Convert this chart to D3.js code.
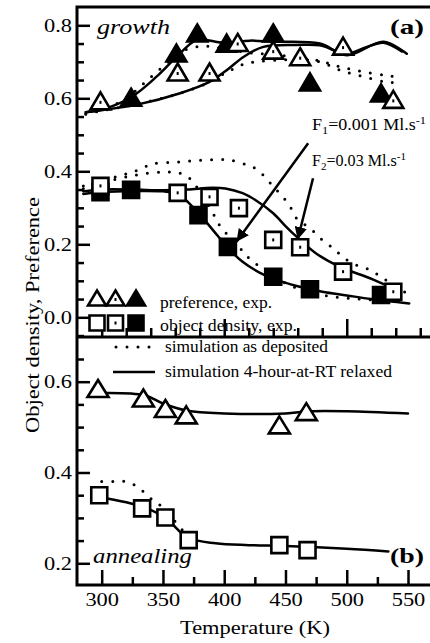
<!DOCTYPE html>
<html>
<head>
<meta charset="utf-8">
<script src="https://cdn.jsdelivr.net/npm/d3@7/dist/d3.min.js"></script>
<style>
body { margin: 0; background: #fff; }
svg { display: block; font-family: "Liberation Serif", "DejaVu Serif", serif; }
.tick line { stroke: #000; stroke-width: 2.5; }
.tick text { font-size: 19px; fill: #000; font-family: "Liberation Serif", serif; }
</style>
</head>
<body>
<svg width="430" height="643"></svg>
<script>
// ---- data (T in K, value) ----
// (a) growth: preference
const growthPrefF1 = [[299,0.593],[362,0.672],[388,0.672],[411,0.753],[440,0.732],[462,0.714],[497,0.743],[538,0.597]];
const growthPrefF2 = [[324,0.603],[361,0.724],[378,0.779],[402,0.751],[440,0.779],[470,0.645],[528,0.615]];
// (a) growth: object density
const growthDensF1 = [[299,0.36],[362,0.341],[388,0.330],[412,0.299],[440,0.212],[462,0.192],[497,0.125],[538,0.070]];
const growthDensF2 = [[299,0.343],[324,0.349],[379,0.28],[403,0.193],[440,0.111],[470,0.077],[528,0.061]];

// simulation curves, panel (a)
const simPrefRelaxF2 = [[287,0.562],[299,0.568],[324,0.603],[345,0.66],[361,0.713],[378,0.76],[399,0.752],[421,0.758],[440,0.755],[478,0.75],[500,0.718],[530,0.755],[549,0.722]];
const simPrefRelaxF1 = [[287,0.562],[301,0.568],[328,0.582],[364,0.614],[388,0.645],[402,0.677],[416,0.714],[432,0.741],[459,0.746],[478,0.745],[500,0.722],[516,0.74],[530,0.752],[545,0.728]];
const simPrefDepF2 = [[287,0.558],[300,0.568],[320,0.60],[339,0.655],[355,0.70],[368,0.732],[380,0.742],[390,0.742],[400,0.735],[420,0.725],[440,0.72],[460,0.712],[475,0.705],[494,0.687],[513,0.673],[532,0.663],[542,0.658]];
const simPrefDepF1 = [[287,0.556],[300,0.566],[330,0.585],[360,0.61],[385,0.64],[403,0.673],[414,0.691],[426,0.70],[445,0.705],[462,0.706],[478,0.70],[494,0.678],[513,0.66],[532,0.645],[545,0.643]];
const simDensRelaxF2 = [[285,0.338],[300,0.343],[325,0.346],[350,0.345],[362,0.338],[375,0.30],[385,0.262],[395,0.222],[403,0.19],[415,0.152],[428,0.124],[440,0.106],[460,0.085],[480,0.07],[500,0.06],[520,0.05],[551,0.038]];
const simDensRelaxF1 = [[285,0.345],[300,0.35],[325,0.35],[350,0.348],[370,0.35],[390,0.355],[401,0.353],[415,0.34],[426,0.32],[440,0.285],[450,0.25],[459,0.221],[475,0.175],[494,0.139],[519,0.107],[532,0.088],[540,0.078]];
const simDensDepF1 = [[285,0.36],[300,0.375],[312,0.385],[322,0.395],[331,0.405],[341,0.42],[360,0.425],[380,0.43],[400,0.432],[410,0.427],[420,0.415],[427,0.405],[437,0.37],[445,0.34],[453,0.308],[459,0.271],[470,0.244],[480,0.212],[489,0.189],[498,0.162],[508,0.143],[519,0.13],[528,0.111],[538,0.088],[549,0.066]];
const simDensDepF2 = [[285,0.352],[300,0.368],[325,0.388],[350,0.398],[368,0.39],[378,0.355],[390,0.29],[396,0.253],[404,0.221],[413,0.189],[422,0.157],[450,0.093],[480,0.061],[510,0.05],[540,0.045]];

// (b) annealing
const annealPref = [[297,0.585],[334,0.564],[352,0.541],[369,0.527],[445,0.505],[467,0.534]];
const annealDens = [[298,0.350],[333,0.321],[352,0.301],[371,0.251],[445,0.240],[468,0.229]];
const simAnnealPref = [[300,0.575],[335,0.57],[350,0.552],[370,0.536],[400,0.53],[450,0.53],[470,0.535],[500,0.535],[550,0.53]];
const simAnnealDens = [[300,0.345],[333,0.325],[352,0.30],[370,0.257],[393,0.244],[420,0.24],[450,0.238],[500,0.232],[534,0.226]];
const simAnnealDensDep = [[300,0.38],[310,0.38],[320,0.38],[330,0.367],[339,0.345],[349,0.325],[366,0.273],[372,0.257]];

// ticks
const xTicks = [300, 350, 400, 450, 500, 550];
const xMinor = [325, 375, 425, 475, 525];
const xTicksA = [300, 400, 500];
const xMinorA = [320, 340, 360, 380, 420, 440, 460, 480, 520, 540, 560];
const yTicksA = [0.0, 0.2, 0.4, 0.6, 0.8];
const yTicksB = [0.2, 0.4, 0.6];

// ---- layout ----
const frameL = 77, frameR = 431, frameT = 7, frameM = 337, frameB = 585;

const svg = d3.select("svg");

const x = d3.scaleLinear().domain([300, 550]).range([101.7, 408]);
const yA = d3.scaleLinear().domain([0, 0.8]).range([317.3, 25.3]);
const yB = d3.scaleLinear().domain([0.2, 0.6]).range([563.3, 381.7]);

// stretch a text to a given width (the original type is wide)
function fit(sel, w) {
	sel.attr("textLength", w).attr("lengthAdjust", "spacingAndGlyphs");
	return sel;
}

// axes
function yAxis(scale, major, lo, hi) {
	const minor = d3.range(lo, hi + 1e-9, 0.05).filter(v => !major.some(m => Math.abs(m - v) < 1e-6));
	svg.append("g")
	   .attr("transform", `translate(${frameL},0)`)
	   .call(d3.axisLeft(scale).tickValues(minor).tickSize(-7).tickFormat(""))
	   .call(g => g.select(".domain").remove());
	svg.append("g")
	   .attr("class", "labelled")
	   .attr("transform", `translate(${frameL},0)`)
	   .call(d3.axisLeft(scale).tickValues(major).tickSize(-13).tickPadding(5).tickFormat(d3.format(".1f")))
	   .call(g => g.select(".domain").remove());
}
yAxis(yA, yTicksA, -0.05, 0.8);
yAxis(yB, yTicksB, 0.2, 0.65);

svg.append("g")
   .attr("transform", `translate(0,${frameB})`)
   .call(d3.axisBottom(x).tickValues(xMinor).tickSize(-8).tickFormat(""))
   .call(g => g.select(".domain").remove());
svg.append("g")
   .attr("class", "labelled")
   .attr("transform", `translate(0,${frameB})`)
   .call(d3.axisBottom(x).tickValues(xTicks).tickSize(-15).tickPadding(8))
   .call(g => g.select(".domain").remove());

svg.append("g")
   .attr("transform", `translate(0,${frameM})`)
   .call(d3.axisBottom(x).tickValues(xMinorA).tickSize(-9).tickFormat(""))
   .call(g => g.select(".domain").remove());
svg.append("g")
   .attr("transform", `translate(0,${frameM})`)
   .call(d3.axisBottom(x).tickValues(xTicksA).tickSize(-18).tickFormat(""))
   .call(g => g.select(".domain").remove());

svg.selectAll(".labelled .tick text").each(function() {
	fit(d3.select(this), this.getComputedTextLength() * 1.18);
});

// frame (right side falls off the picture)
svg.append("path")
   .attr("d", `M${frameR},${frameT}H${frameL}V${frameB}H${frameR} M${frameL},${frameM}H${frameR}`)
   .attr("fill", "none")
   .attr("stroke", "#000")
   .attr("stroke-width", 3);

// curves
function curve(data, yScale, dotted) {
	const line = d3.line()
				   .x(d => x(d[0]))
				   .y(d => yScale(d[1]))
				   .curve(d3.curveCatmullRom.alpha(0.5));
	svg.append("path")
	   .attr("d", line(data))
	   .attr("fill", "none")
	   .attr("stroke", "#000")
	   .attr("stroke-width", dotted ? 3 : 2.5)
	   .attr("stroke-linecap", "round")
	   .attr("stroke-dasharray", dotted ? "0 11" : null);
}
curve(simPrefDepF2, yA, true);
curve(simPrefDepF1, yA, true);
curve(simDensDepF1, yA, true);
curve(simDensDepF2, yA, true);
curve(simPrefRelaxF2, yA, false);
curve(simPrefRelaxF1, yA, false);
curve(simDensRelaxF2, yA, false);
curve(simDensRelaxF1, yA, false);
curve(simAnnealDensDep, yB, true);
curve(simAnnealPref, yB, false);
curve(simAnnealDens, yB, false);

// markers
function tri(w, h) { return `M0,${-h/2}L${w/2},${h/2}L${-w/2},${h/2}Z`; }
function sq(s) { return `M${-s/2},${-s/2}h${s}v${s}h${-s}Z`; }

function markers(data, yScale, shape, style) {
	const g = svg.append("g");
	const m = g.selectAll("g")
			   .data(data)
			   .enter()
			   .append("g")
			   .attr("transform", d => `translate(${x(d[0])},${yScale(d[1])})`);
	m.append("path")
	 .attr("d", shape)
	 .attr("fill", style === "filled" ? "#000" : "#fff")
	 .attr("stroke", "#000")
	 .attr("stroke-width", 2.6)
	 .attr("stroke-linejoin", "miter");
	if (style === "dot") {
		m.append("rect")
		 .attr("x", -1).attr("y", shape.startsWith("M0") ? 0 : -1.5)
		 .attr("width", 2).attr("height", 3)
		 .attr("fill", "#000");
	}
}
markers(growthDensF2, yA, sq(16), "filled");
markers(growthDensF1, yA, sq(16), "dot");
markers(growthPrefF2, yA, tri(20, 17), "filled");
markers(growthPrefF1, yA, tri(20, 17), "dot");
markers(annealPref, yB, tri(21, 17), "open");
markers(annealDens, yB, sq(16), "open");

// arrows
svg.append("defs").append("marker")
   .attr("id", "head")
   .attr("viewBox", "0 0 10 10")
   .attr("refX", 10).attr("refY", 5)
   .attr("markerWidth", 5).attr("markerHeight", 5)
   .attr("markerUnits", "strokeWidth")
   .attr("orient", "auto")
   .append("path")
   .attr("d", "M0,0L10,5L0,10Z")
   .attr("fill", "#000");

const arrows = [[[468.5, 0.477], [410, 0.207]], [[472.5, 0.381], [460, 0.213]]];
arrows.forEach(a => {
	svg.append("line")
	   .attr("x1", x(a[0][0])).attr("y1", yA(a[0][1]))
	   .attr("x2", x(a[1][0])).attr("y2", yA(a[1][1]))
	   .attr("stroke", "#000")
	   .attr("stroke-width", 2.5)
	   .attr("marker-end", "url(#head)");
});

// flux labels
function fluxLabel(sub, val, xx, yy, w) {
	const t = svg.append("text")
				 .attr("x", xx).attr("y", yy)
				 .attr("font-size", 16);
	t.append("tspan").text("F");
	t.append("tspan").attr("font-size", 11).attr("dy", 4).text(sub);
	t.append("tspan").attr("dy", -4).text("=" + val + " Ml.s");
	t.append("tspan").attr("font-size", 11).attr("dy", -6).text("-1");
	fit(t, w);
}
fluxLabel("1", "0.001", 312, 130, 114);
fluxLabel("2", "0.03", 312, 166, 94);

// panel labels
fit(svg.append("text").attr("x", 97).attr("y", 34).attr("font-size", 21).attr("font-style", "italic").text("growth"), 73);
fit(svg.append("text").attr("x", 390).attr("y", 34).attr("font-size", 21).attr("font-weight", "bold").text("(a)"), 34);
fit(svg.append("text").attr("x", 93).attr("y", 563).attr("font-size", 21).attr("font-style", "italic").text("annealing"), 99);
fit(svg.append("text").attr("x", 390).attr("y", 563).attr("font-size", 21).attr("font-weight", "bold").text("(b)"), 34);

// legend (experimental symbols)
const lg = svg.append("g");
[["open", 97], ["dot", 115.5], ["filled", 136]].forEach(s => {
	const gt = lg.append("g").attr("transform", `translate(${s[1]},298)`);
	gt.append("path").attr("d", tri(18, 15)).attr("fill", s[0] === "filled" ? "#000" : "#fff").attr("stroke", "#000").attr("stroke-width", 2.6);
	if (s[0] === "dot") gt.append("rect").attr("x", -1).attr("y", 0).attr("width", 2).attr("height", 3);
	const gs = lg.append("g").attr("transform", `translate(${s[1]},323)`);
	gs.append("path").attr("d", sq(15)).attr("fill", s[0] === "filled" ? "#000" : "#fff").attr("stroke", "#000").attr("stroke-width", 2.6);
	if (s[0] === "dot") gs.append("rect").attr("x", -1).attr("y", -1.5).attr("width", 2).attr("height", 3);
});
fit(lg.append("text").attr("x", 160).attr("y", 308).attr("font-size", 16).text("preference, exp."), 112);
fit(lg.append("text").attr("x", 160).attr("y", 331).attr("font-size", 16).text("object density, exp."), 137);

// legend (simulation lines)
lg.append("line").attr("x1", 116).attr("x2", 152).attr("y1", 347).attr("y2", 347)
  .attr("stroke", "#000").attr("stroke-width", 3).attr("stroke-linecap", "round").attr("stroke-dasharray", "0 11");
fit(lg.append("text").attr("x", 165).attr("y", 352).attr("font-size", 16).text("simulation as deposited"), 163);
lg.append("line").attr("x1", 113).attr("x2", 155).attr("y1", 372).attr("y2", 372)
  .attr("stroke", "#000").attr("stroke-width", 2.5);
fit(lg.append("text").attr("x", 165).attr("y", 377).attr("font-size", 16).text("simulation 4-hour-at-RT relaxed"), 227);

// axis titles
fit(svg.append("text").attr("x", 180).attr("y", 634).attr("font-size", 18).text("Temperature  (K)"), 150);
fit(svg.append("text").attr("transform", "translate(39,433) rotate(-90)").attr("font-size", 19).text("Object density, Preference"), 236);
</script>
</body>
</html>
